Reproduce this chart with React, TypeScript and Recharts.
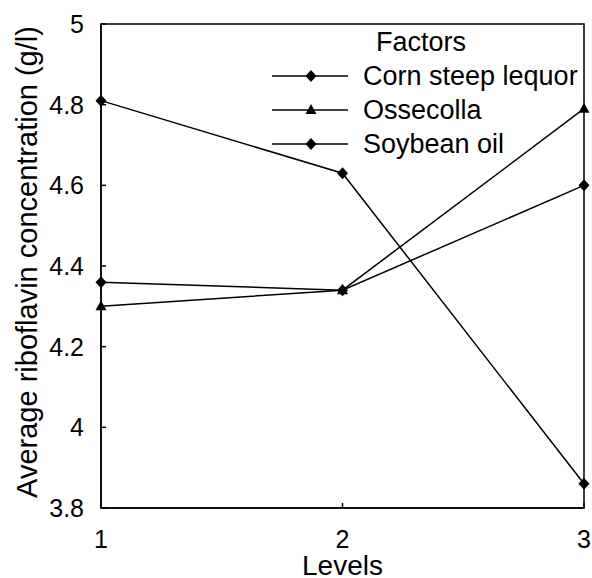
import React from "react"
import { LineChart, Line, XAxis, YAxis, Legend, ReferenceArea, Label } from "recharts"

const levels = [1, 2, 3]
const cornSteepLequor = [4.81, 4.63, 3.86]
const ossecolla = [4.3, 4.34, 4.79]
const soybeanOil = [4.36, 4.34, 4.6]

const yTicks = [3.8, 4, 4.2, 4.4, 4.6, 4.8, 5]

const FONT = "'Liberation Sans', Arial, sans-serif"

const data = levels.map((lvl, i) => ({
  level: lvl,
  corn: cornSteepLequor[i],
  osse: ossecolla[i],
  soy: soybeanOil[i],
}))

const series = [
  { key: "corn", name: "Corn steep lequor", shape: "diamond" },
  { key: "osse", name: "Ossecolla", shape: "triangle" },
  { key: "soy", name: "Soybean oil", shape: "diamond" },
]

// marker shapes
const Marker = ({ cx, cy, shape }: any) => {
  if (cx == null || cy == null) return null
  if (shape === "triangle") {
    return <polygon points={`${cx},${cy - 6} ${cx + 5.5},${cy + 4} ${cx - 5.5},${cy + 4}`} fill="#000" />
  }
  return <polygon points={`${cx},${cy - 6} ${cx + 5.5},${cy} ${cx},${cy + 6} ${cx - 5.5},${cy}`} fill="#000" />
}

const renderLegend = () => (
  <div style={{ fontFamily: FONT, fontSize: 27, color: "#000", lineHeight: "34px", textAlign: "left" }}>
    <div style={{ paddingLeft: 104 }}>Factors</div>
    {series.map((s) => (
      <div key={s.key} style={{ display: "flex", alignItems: "center", height: 34 }}>
        <svg width={76} height={20} style={{ display: "block" }}>
          <line x1={0} y1={10} x2={76} y2={10} stroke="#000" strokeWidth={1.5} />
          <Marker cx={39} cy={10} shape={s.shape} />
        </svg>
        <span style={{ marginLeft: 15, whiteSpace: "nowrap" }}>{s.name}</span>
      </div>
    ))}
  </div>
)

export default function App() {
  return (
    <div style={{ position: "absolute", left: 0, top: 0 }}>
      <LineChart width={592} height={578} data={data} margin={{ top: 24, right: 8, left: 0, bottom: 0 }}>
        <XAxis
          dataKey="level"
          type="number"
          domain={[1, 3]}
          ticks={levels}
          height={70}
          tickSize={-5}
          tickMargin={27}
          stroke="#000"
          strokeWidth={1.5}
          tick={{ fill: "#000", fontSize: 25, fontFamily: FONT }}
        >
          <Label value="Levels" position="insideBottom" offset={3} fill="#000" fontSize={28} fontFamily={FONT} />
        </XAxis>
        <YAxis
          type="number"
          domain={[3.8, 5]}
          ticks={yTicks}
          width={101}
          tickSize={-5}
          tickMargin={22}
          stroke="#000"
          strokeWidth={1.5}
          interval={0}
          tickFormatter={(v: number) => String(Number(v.toFixed(1)))}
          tick={{ fill: "#000", fontSize: 25, fontFamily: FONT }}
        >
          <Label
            content={({ viewBox }: any) => {
              const cx = 27
              const cy = viewBox.y + viewBox.height / 2 - 4
              return (
                <text
                  x={cx}
                  y={cy}
                  transform={`rotate(-90 ${cx} ${cy})`}
                  textAnchor="middle"
                  dominantBaseline="central"
                  fill="#000"
                  fontSize={29}
                  fontFamily={FONT}
                >
                  Average riboflavin concentration (g/l)
                </text>
              )
            }}
          />
        </YAxis>
        <ReferenceArea x1={1} x2={3} y1={3.8} y2={5} fill="none" stroke="#000" strokeWidth={1.5} fillOpacity={0} />
        <Legend
          content={renderLegend}
          layout="vertical"
          verticalAlign="middle"
          align="center"
          wrapperStyle={{ left: 272, top: 25, width: 320 }}
        />
        {series.map((s) => (
          <Line
            key={s.key}
            dataKey={s.key}
            name={s.name}
            type="linear"
            stroke="#000"
            strokeWidth={1.5}
            dot={(p: any) => <Marker key={`${s.key}-${p.index}`} cx={p.cx} cy={p.cy} shape={s.shape} />}
            activeDot={false}
            isAnimationActive={false}
          />
        ))}
      </LineChart>
    </div>
  )
}
